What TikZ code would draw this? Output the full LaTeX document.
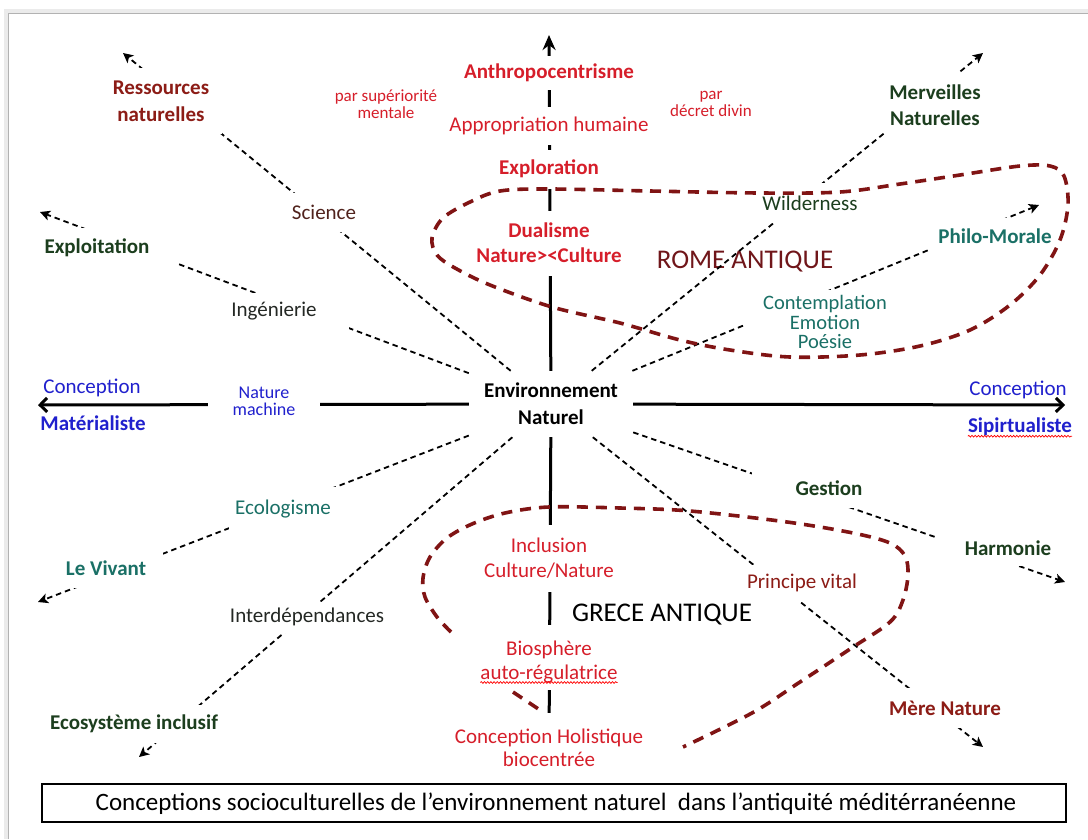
\documentclass[tikz,border=0pt]{standalone}
\usepackage{fontspec}
\setmainfont{Carlito}
\usetikzlibrary{arrows.meta,decorations.pathmorphing}

\definecolor{axred}{RGB}{214,30,42}
\definecolor{brickred}{RGB}{140,28,22}
\definecolor{romemaroon}{RGB}{112,22,26}
\definecolor{deepgreen}{RGB}{28,62,30}
\definecolor{tealtext}{RGB}{26,112,102}
\definecolor{conceptblue}{RGB}{32,32,205}
\definecolor{looprouge}{RGB}{128,20,20}
\definecolor{inkgray}{RGB}{36,40,36}
\definecolor{sciencebrown}{RGB}{80,34,28}

\newlength\wavewidth
\newcommand\capfont{\fontsize{25}{28}\selectfont}

\tikzset{
  lab/.style={fill=white, inner sep=0pt, align=center},
  rg/.style={font=\fontsize{21}{25}\selectfont},
  bd/.style={font=\fontsize{21}{26}\selectfont\bfseries},
  ray/.style={black, line width=1.8pt, dash pattern=on 5.5pt off 4pt},
  raytip/.style={-{Stealth[length=10pt,width=10pt,inset=2.5pt]}},
  axis/.style={black, line width=3pt},
  barb/.style={-{Straight Barb[length=7pt,width=14pt]}},
  eraloop/.style={looprouge, line width=3.6pt, dash pattern=on 11pt off 8pt},
  wave/.style={red, line width=0.7pt, decorate,
    decoration={snake, amplitude=0.9pt, segment length=3.2pt}}
}

\begin{document}
\begin{tikzpicture}[x=1pt, y=-1pt]
\useasboundingbox (0,0) rectangle (1088,839);
\fill[white] (0,0) rectangle (1088,839);

% page edge
\draw[black!8, line width=5pt] (6.5,839) -- (6.5,11.5) -- (1088,11.5);
\draw[black!30, line width=1.8pt] (8.5,839) -- (8.5,13.5) -- (1088,13.5);

% era names
\node[font=\fontsize{27}{30}\selectfont, text=romemaroon] (rome) at (745,262) {ROME ANTIQUE};
\node[font=\fontsize{27}{30}\selectfont] (grece) at (662,615) {GRECE ANTIQUE};

% centre
\node[fill=white, minimum width=164pt, minimum height=66pt, inner sep=0pt, align=center,
      font=\fontsize{21}{27}\selectfont\bfseries] (env) at (551,404) {Environnement\\Naturel};

% ray ends
\coordinate (tipN) at (549,35);
\coordinate (tipW) at (38,405);
\coordinate (tipE) at (1065,405);
\coordinate (tipRes) at (123,53);
\coordinate (tipExp) at (40,212);
\coordinate (tipViv) at (38,602);
\coordinate (tipEco) at (139,757);
\coordinate (tipMere) at (983,747);
\coordinate (tipHarm) at (1065,582);
\coordinate (tipPhilo) at (1039,205);
\coordinate (tipMerv) at (983,53);

\node[lab, rg, text=axred, minimum width=210pt, minimum height=70pt,
      font=\fontsize{21}{23}\selectfont] (holis) at (549,748) {Conception Holistique\\biocentrée};

% axes
\draw[axis, -{Stealth[length=15pt,width=13pt]}] (env) -- (tipN);
\draw[axis] (env) -- (holis);
\draw[axis, barb] (env) -- (tipW);
\draw[axis, barb] (env) -- (tipE);

% dashed rays
\draw[ray, raytip] (env) -- (tipRes);
\draw[ray, raytip] (env) -- (tipExp);
\draw[ray, raytip] (env) -- (tipViv);
\draw[ray, raytip] (env) -- (tipEco);
\draw[ray, raytip] (env) -- (tipMere);
\draw[ray, raytip] (env) -- (tipHarm);
\draw[ray, raytip] (env) -- (tipPhilo);
\draw[ray, raytip] (env) -- (tipMerv);

% labels on the vertical axis
\node[lab, bd, text=axred, minimum width=190pt, minimum height=34pt] (anthro) at (549,73) {Anthropocentrisme};
\node[lab, rg, text=axred, minimum width=220pt, minimum height=38pt] (approp) at (549,126) {Appropriation humaine};
\node[lab, bd, text=axred, minimum width=120pt, minimum height=39pt] (explo) at (549,169) {Exploration};
\node[lab, bd, text=axred, minimum width=170pt, minimum height=65pt,
      font=\fontsize{21}{25}\selectfont\bfseries] (dual) at (549,243) {Dualisme\\Nature>{}<Culture};
\node[lab, rg, text=axred, minimum width=150pt, minimum height=67pt] (incl) at (549,558) {Inclusion\\Culture/Nature};
\node[fill=white, rg, text=axred, inner xsep=6pt, inner ysep=0pt, anchor=base,
      text height=30pt, text depth=9pt] (bios) at (549,655) {Biosphère};
\node[fill=white, rg, text=axred, inner xsep=0pt, inner ysep=0pt, anchor=base,
      text height=15pt, text depth=11pt] (autor) at (549,679) {auto-régulatrice};

% labels on the left side
\node[lab, rg, text=sciencebrown, minimum width=72pt, minimum height=39pt] (sci) at (324,212) {Science};
\node[lab, bd, text=brickred, minimum width=122pt, minimum height=66pt,
      font=\fontsize{21}{27}\selectfont\bfseries] (res) at (161,101) {Ressources\\naturelles};
\node[lab, rg, text=inkgray, minimum width=150pt, minimum height=37pt] (ing) at (274,311) {Ingénierie};
\node[lab, bd, text=deepgreen, minimum width=160pt, minimum height=40pt] (expl) at (97,248) {Exploitation};
\node[lab, text=conceptblue, minimum width=112pt, minimum height=44pt,
      font=\fontsize{18}{17}\selectfont] (natm) at (264,401) {Nature\\machine};
\node[lab, rg, text=tealtext, minimum width=108pt, minimum height=44pt] (ecol) at (283,509) {Ecologisme};
\node[lab, bd, text=tealtext, minimum width=113pt, minimum height=40pt] (viv) at (106,568) {Le Vivant};
\node[lab, rg, text=inkgray, minimum width=170pt, minimum height=31pt] (inter) at (307,617) {Interdépendances};
\node[lab, bd, text=deepgreen, minimum width=185pt, minimum height=38pt] (ecos) at (134,724) {Ecosystème inclusif};

% labels on the right side
\node[lab, rg, text=brickred, minimum width=120pt, minimum height=37pt] (princ) at (802,583) {Principe vital};
\node[lab, bd, text=brickred, minimum width=125pt, minimum height=40pt] (mere) at (945,708) {Mère Nature};
\node[lab, bd, text=deepgreen, minimum width=154pt, minimum height=39pt] (gest) at (829,488) {Gestion};
\node[lab, bd, text=deepgreen, minimum width=146pt, minimum height=35pt] (harm) at (1008,548) {Harmonie};
\node[lab, text=tealtext, minimum width=162pt, minimum height=64pt,
      font=\fontsize{20.5}{19.5}\selectfont] (contem) at (825,322) {Contemplation\\Emotion\\Poésie};
\node[lab, bd, text=tealtext, minimum width=130pt, minimum height=36pt] (philo) at (995,236) {Philo-Morale};
\node[lab, rg, text=deepgreen, minimum width=110pt, minimum height=40pt] (wild) at (810,203) {Wilderness};
\node[lab, bd, text=deepgreen, minimum width=100pt, minimum height=65pt] (merv) at (935,105) {Merveilles\\Naturelles};

% small notes beside the upper axis
\node[align=center, text=axred, font=\fontsize{17}{17}\selectfont] (parsup) at (386,104) {par supériorité\\mentale};
\node[align=center, text=axred, font=\fontsize{17}{17}\selectfont] (pardiv) at (711,104) {par\\décret divin};

% ends of the horizontal axis
\node[rg, text=conceptblue] (concL) at (92,388) {Conception};
\node[bd, text=conceptblue] (matL) at (93,423) {Matérialiste};
\node[rg, text=conceptblue] (concR) at (1018,390) {Conception};
\node[bd, text=conceptblue, inner xsep=0pt] (spirR) at (1020,427) {Sipirtualiste};
\draw[wave] ([yshift=-3.5pt]spirR.base west) -- ([yshift=-3.5pt]spirR.base east);
\draw[wave] ([yshift=-3.5pt]autor.base west) -- ([yshift=-3.5pt]autor.base east);

% Rome: closed dashed outline
\draw[eraloop] plot[smooth cycle, tension=0.55] coordinates {
  (549,189) (650,191) (760,193) (840,192) (900,184) (960,175) (1020,166)
  (1050,166) (1064,176) (1068,205) (1060,240) (1040,275) (1010,305)
  (970,330) (920,346) (860,355) (790,357) (730,350) (680,340) (620,323)
  (552,307) (490,285) (455,268) (437,255) (432,238) (443,218) (470,202)
  (500,191)};

% Greece: open dashed outline
\draw[eraloop] plot[smooth, tension=0.55] coordinates {
  (451,632) (437,617) (425,597) (423,578) (430,557) (447,538) (472,524)
  (505,513) (549,507) (620,508) (690,511) (787,522) (853,533) (890,543)
  (905,556) (908,575) (903,600) (890,622) (850,649) (800,682) (752,713)
  (683,747)};
\draw[eraloop] (513,692) -- (543,712);

% caption
\node[draw, line width=1.3pt, minimum width=1024pt, minimum height=38pt, inner sep=0pt] (capbox) at (554,803) {};
\node[font=\capfont, inner sep=0pt] (cap) at (556,804)
  {Conceptions socioculturelles de l’environnement naturel\ \ dans l’antiquité méditérranéenne};
\settowidth\wavewidth{\capfont méditérranéenne}
\draw[wave] ([yshift=-3.5pt]cap.base east) -- ++(-\wavewidth,0);
\end{tikzpicture}
\end{document}
